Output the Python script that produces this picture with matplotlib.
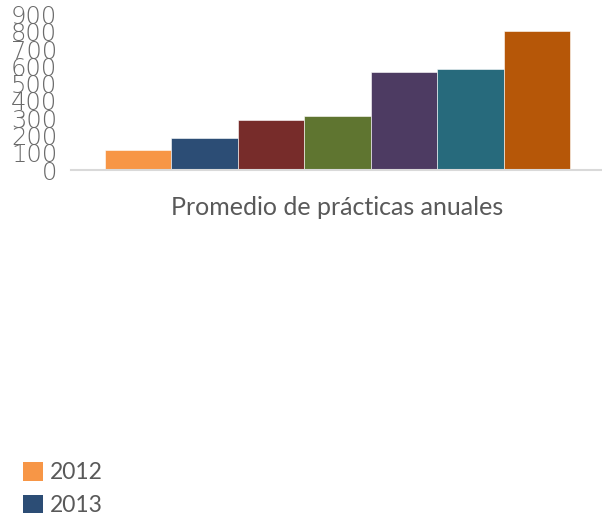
import matplotlib
matplotlib.use("Agg")
import matplotlib.pyplot as plt
from matplotlib.patches import Patch
import numpy as np

# datos
categoria = "Promedio de prácticas anuales"
anios = ["2012", "2013", "2014", "2015", "2016", "2017", "2018"]
valores = [115, 185, 290, 310, 565, 585, 805]
colores = ["#F79646", "#2C4D75", "#772C2A", "#5F7530", "#4D3B62", "#276A7C", "#B65708"]
ticks_y = list(range(0, 1000, 100))

fig = plt.figure(figsize=(6.02, 5.13), dpi=100)
ax = fig.add_axes([0.118, 0.6686, 0.885, 0.3031])

n = len(anios)
ancho_grupo = 0.873
ancho = ancho_grupo / n
offsets = (np.arange(n) - (n - 1) / 2) * ancho
for i in range(n):
    ax.bar(offsets[i], valores[i], width=ancho, color=colores[i],
           edgecolor="white", linewidth=0.4)

ax.set_xlim(-0.5, 0.5)
ax.set_ylim(0, 900)
ax.set_yticks(ticks_y)
# las etiquetas se pisan igual que en el original
ax.set_yticklabels([str(t) for t in ticks_y], fontsize=17.5, color="#6a6a6a",
                   family="DejaVu Sans", fontweight="light")
ax.set_xticks([0])
ax.set_xticklabels([categoria], fontsize=18, color="#595959", family="Lato")
ax.tick_params(axis="y", length=0, pad=10)
ax.tick_params(axis="x", length=0, pad=19)

for s in ["top", "right", "left"]:
    ax.spines[s].set_visible(False)
ax.spines["bottom"].set_color("#d9d9d9")
ax.spines["bottom"].set_linewidth(1.5)

handles = [Patch(facecolor=c, edgecolor="none") for c in colores]
fig.legend(handles, anios, loc="upper left", bbox_to_anchor=(0.0377, 0.1),
           frameon=False, prop={"family": "Lato", "size": 16.5},
           handlelength=0.9, handleheight=0.9, handletextpad=0.3,
           labelspacing=0.52, borderpad=0, borderaxespad=0,
           labelcolor="#595959")

fig.savefig("out.png", dpi=100)
